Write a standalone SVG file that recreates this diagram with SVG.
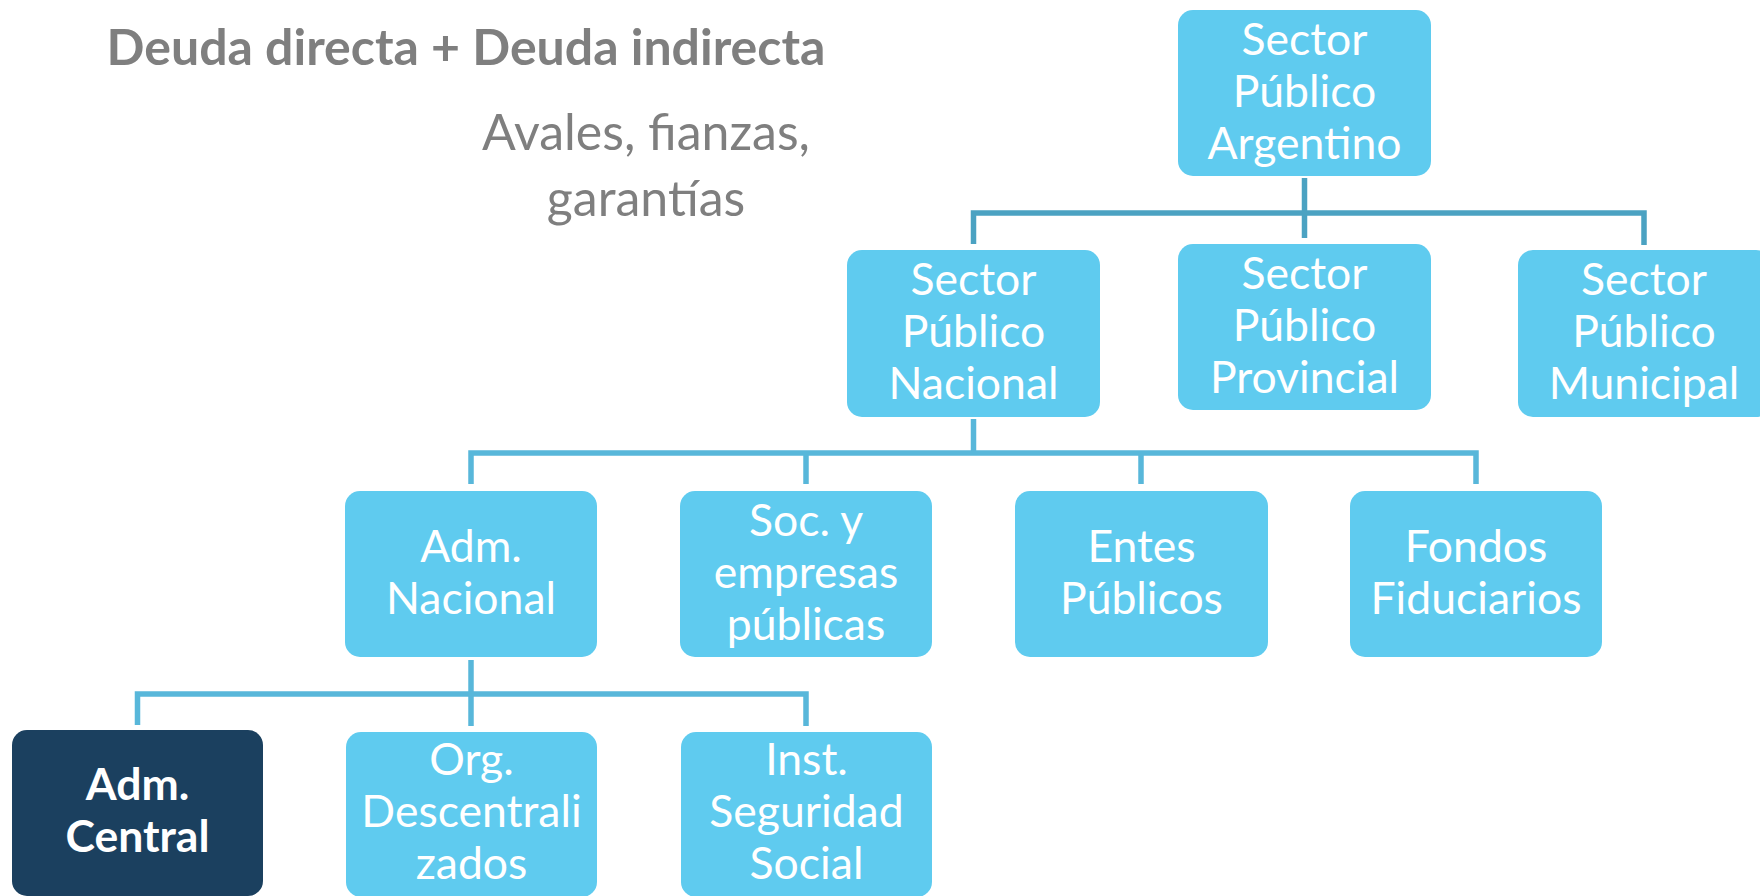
<svg xmlns="http://www.w3.org/2000/svg" width="1760" height="896" viewBox="0 0 1760 896">
<style>
.node{fill:#5fcbef}
.dark{fill:#1b405f}
.t{font-family:Lato,"Open Sans",sans-serif;font-size:44.5px;fill:#ffffff;text-anchor:middle}
.tb{font-family:Lato,"Open Sans",sans-serif;font-size:44.5px;font-weight:bold;fill:#ffffff;text-anchor:middle}
.c1{fill:none;stroke:#4ba2c2;stroke-width:5.5}
.c2{fill:none;stroke:#58b7da;stroke-width:5.5}
.title{font-family:Lato,"Open Sans",sans-serif;font-size:50px;font-weight:bold;fill:#7f7f7f;text-anchor:middle}
.sub{font-family:Lato,"Open Sans",sans-serif;font-size:50px;fill:#7f7f7f;text-anchor:middle}
</style>
<rect width="1760" height="896" fill="#ffffff"/>
<g id="labels">
<text class="title" x="466" y="65">Deuda directa + Deuda indirecta</text>
<text class="sub" x="646" y="150">Avales, fianzas,</text>
<text class="sub" x="646" y="216">garantías</text>
</g>
<g id="connectors">
<path class="c1" d="M1304.5 178V238"/>
<path class="c1" d="M973.5 244V213H1644V245"/>
<path class="c2" d="M973.5 419V453"/>
<path class="c2" d="M471 484V453H1476V484"/>
<path class="c2" d="M806 453V484"/>
<path class="c2" d="M1141 453V484"/>
<path class="c2" d="M471 660V726"/>
<path class="c2" d="M137.5 725V694H806V726"/>
</g>
<g id="n-argentino">
<rect class="node" x="1178" y="10" width="253" height="166" rx="15"/>
<text class="t" x="1304.5" y="55">Sector</text>
<text class="t" x="1304.5" y="107">Público</text>
<text class="t" x="1304.5" y="159">Argentino</text>
</g>
<g id="n-nacional">
<rect class="node" x="847" y="250" width="253" height="167" rx="15"/>
<text class="t" x="973.5" y="295">Sector</text>
<text class="t" x="973.5" y="347">Público</text>
<text class="t" x="973.5" y="399">Nacional</text>
</g>
<g id="n-provincial">
<rect class="node" x="1178" y="244" width="253" height="166" rx="15"/>
<text class="t" x="1304.5" y="289">Sector</text>
<text class="t" x="1304.5" y="341">Público</text>
<text class="t" x="1304.5" y="393">Provincial</text>
</g>
<g id="n-municipal">
<rect class="node" x="1518" y="250" width="253" height="167" rx="15"/>
<text class="t" x="1644" y="295">Sector</text>
<text class="t" x="1644" y="347">Público</text>
<text class="t" x="1644" y="399">Municipal</text>
</g>
<g id="n-adm-nacional">
<rect class="node" x="345" y="491" width="252" height="166" rx="15"/>
<text class="t" x="471" y="562">Adm.</text>
<text class="t" x="471" y="614">Nacional</text>
</g>
<g id="n-soc">
<rect class="node" x="680" y="491" width="252" height="166" rx="15"/>
<text class="t" x="806" y="536">Soc. y</text>
<text class="t" x="806" y="588">empresas</text>
<text class="t" x="806" y="640">públicas</text>
</g>
<g id="n-entes">
<rect class="node" x="1015" y="491" width="253" height="166" rx="15"/>
<text class="t" x="1141.5" y="562">Entes</text>
<text class="t" x="1141.5" y="614">Públicos</text>
</g>
<g id="n-fondos">
<rect class="node" x="1350" y="491" width="252" height="166" rx="15"/>
<text class="t" x="1476" y="562">Fondos</text>
<text class="t" x="1476" y="614">Fiduciarios</text>
</g>
<g id="n-adm-central">
<rect class="dark" x="12" y="730" width="251" height="166" rx="15"/>
<text class="tb" x="137.5" y="800">Adm.</text>
<text class="tb" x="137.5" y="852">Central</text>
</g>
<g id="n-org">
<rect class="node" x="346" y="732" width="251" height="165" rx="15"/>
<text class="t" x="471.5" y="775">Org.</text>
<text class="t" x="471.5" y="827">Descentrali</text>
<text class="t" x="471.5" y="879">zados</text>
</g>
<g id="n-inst">
<rect class="node" x="681" y="732" width="251" height="165" rx="15"/>
<text class="t" x="806.5" y="775">Inst.</text>
<text class="t" x="806.5" y="827">Seguridad</text>
<text class="t" x="806.5" y="879">Social</text>
</g>
</svg>
